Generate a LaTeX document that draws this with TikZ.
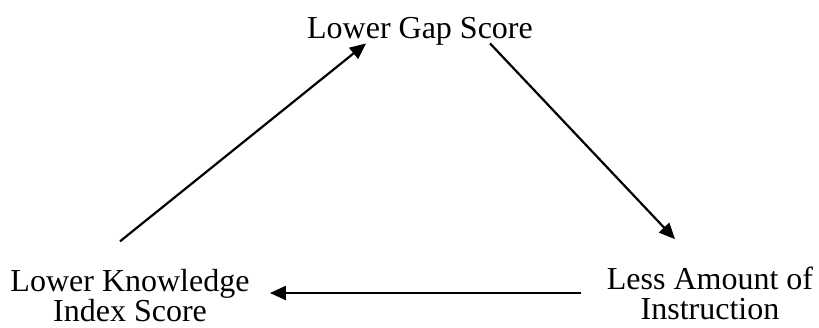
\documentclass[tikz,border=0pt]{standalone}
\usepackage{fontspec}
\setmainfont{Liberation Serif}
\usetikzlibrary{arrows.meta}
\begin{document}
\begin{tikzpicture}[
    x=0.5pt, y=-0.5pt,
    label/.style={align=center, inner sep=0pt, font=\fontsize{16}{15}\selectfont},
    arrow/.style={-{Triangle[length=8pt, width=7pt]}, line width=1.1pt}
]
\useasboundingbox (0,0) rectangle (819,327);
\node[label] (gap) at (420,31) {Lower Gap Score};
\node[label] (know) at (130,296) {Lower Knowledge\\Index Score};
\node[label] (less) at (710,293) {Less Amount of\\Instruction};

\draw[arrow] ([xshift=-5pt, yshift=14pt]know.north) -- ([xshift=-27pt, yshift=1pt]gap.south);
\draw[arrow] ([xshift=35pt, yshift=1pt]gap.south) -- ([xshift=-17.5pt, yshift=13.5pt]less.north);
\draw[arrow] ([xshift=-13pt]less.west) -- ([xshift=10pt, yshift=1.5pt]know.east);
\end{tikzpicture}
\end{document}
